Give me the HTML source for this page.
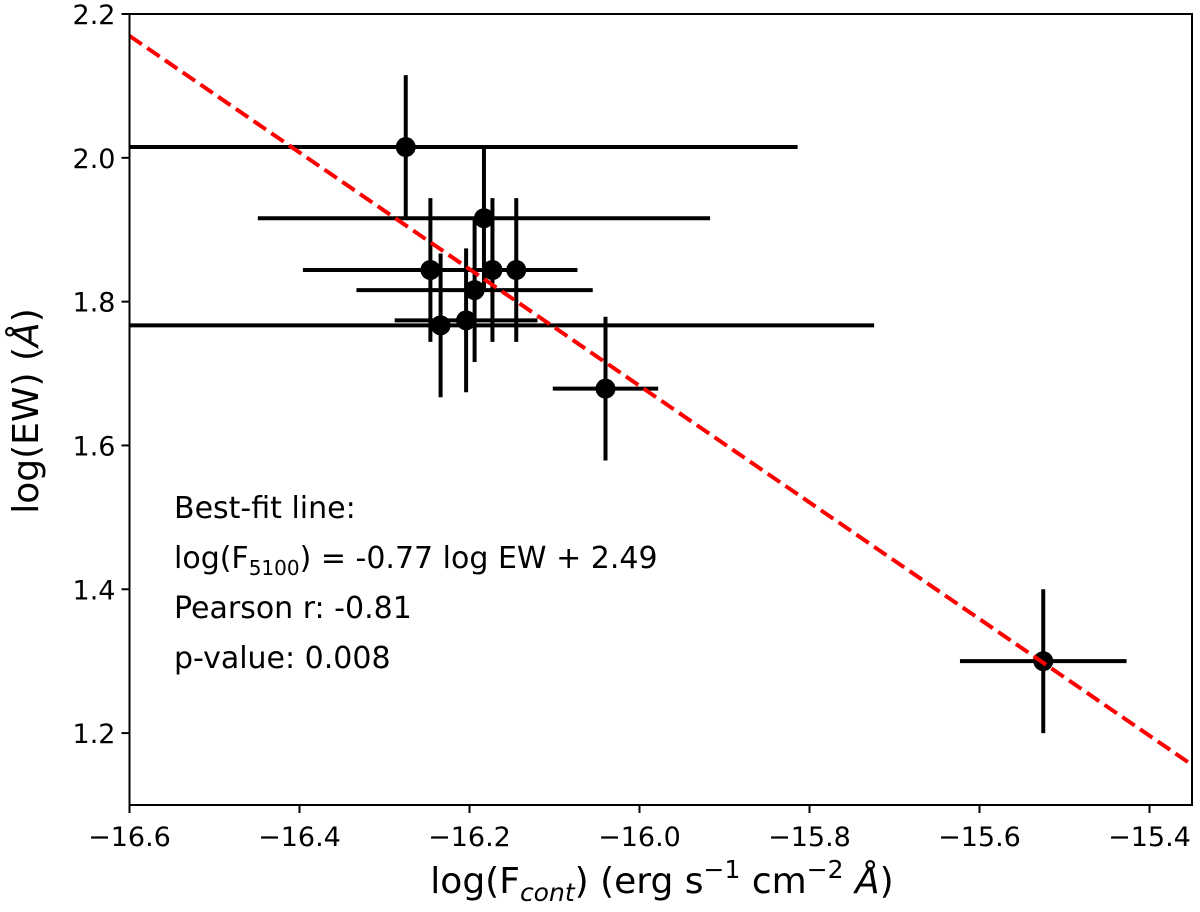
<!DOCTYPE html>
<html><head><meta charset="utf-8">
<style>
html,body{margin:0;padding:0;background:#fff;}
svg{display:block;font-family:"DejaVu Sans","Liberation Sans",sans-serif;}
</style></head>
<body>
<svg id="chart" width="1200" height="912" viewBox="0 0 1200 912" xmlns="http://www.w3.org/2000/svg">
<g id="marks"></g>
<g id="axes"></g>
<g font-size="30" fill="#000">
<text x="174" y="518">Best-fit line:</text>
<text x="174" y="568">log(F<tspan font-size="20" dy="7">5100</tspan><tspan dy="-7">) = -0.77 log EW + 2.49</tspan></text>
<text x="174" y="618">Pearson r: -0.81</text>
<text x="174" y="668">p-value: 0.008</text>
</g>
<text x="662" y="893" font-size="36" text-anchor="middle">log(F<tspan font-size="25" font-style="italic" dy="8">cont</tspan><tspan dy="-8">) (erg s</tspan><tspan font-size="25" dy="-15">−1</tspan><tspan dy="15"> cm</tspan><tspan font-size="25" dy="-15">−2</tspan><tspan dy="15"> </tspan><tspan font-style="italic">Å</tspan>)</text>
<text transform="translate(38,411) rotate(-90)" font-size="36" text-anchor="middle">log(EW) (<tspan font-style="italic">Å</tspan>)</text>
</svg>
<script>
const xVals = [-16.275, -16.183, -16.246, -16.173, -16.145, -16.194, -16.204, -16.234, -16.04, -15.525];
const yVals = [2.015, 1.916, 1.844, 1.844, 1.844, 1.816, 1.774, 1.767, 1.679, 1.30];
const xErr = [0.461, 0.266, 0.150, 0.100, 0.070, 0.139, 0.084, 0.51, 0.062, 0.098];
const yErr = [0.1, 0.1, 0.1, 0.1, 0.1, 0.1, 0.1, 0.1, 0.1, 0.1];
const xTicks = [-16.6, -16.4, -16.2, -16.0, -15.8, -15.6, -15.4];
const yTicks = [1.2, 1.4, 1.6, 1.8, 2.0, 2.2];
const fitSlope = -0.811;
const fitIntercept = -11.293;

const L=129.5,R=1192,T=14,B=805;
const X0=-16.6,X1=-15.35,Y0=1.1,Y1=2.2;
const sx=v=>L+(v-X0)/(X1-X0)*(R-L);
const sy=v=>B-(v-Y0)/(Y1-Y0)*(B-T);
const NS="http://www.w3.org/2000/svg";
const marks=document.getElementById('marks');
const axes=document.getElementById('axes');
function mk(tag,attrs,parent){const e=document.createElementNS(NS,tag);for(const k in attrs)e.setAttribute(k,attrs[k]);parent.appendChild(e);return e;}

const defs=mk('defs',{},marks);
const cp=mk('clipPath',{id:'plotclip'},defs);
mk('rect',{x:L,y:T,width:R-L,height:B-T},cp);
const plot=mk('g',{'clip-path':'url(#plotclip)'},marks);

for(let i=0;i<xVals.length;i++){
  const g=mk('g',{},plot);
  
  
  mk('line',{x1:sx(xVals[i]-xErr[i]),x2:sx(xVals[i]+xErr[i]),y1:sy(yVals[i]),y2:sy(yVals[i]),stroke:'#000','stroke-width':4},g);
  mk('line',{x1:sx(xVals[i]),x2:sx(xVals[i]),y1:sy(yVals[i]-yErr[i]),y2:sy(yVals[i]+yErr[i]),stroke:'#000','stroke-width':4},g);
  mk('circle',{cx:sx(xVals[i]),cy:sy(yVals[i]),r:10,fill:'#000'},g);
}
const fl=mk('line',{x1:sx(X0),y1:sy(fitSlope*X0+fitIntercept),x2:sx(X1),y2:sy(fitSlope*X1+fitIntercept),stroke:'#ff0000','stroke-width':4,'stroke-dasharray':'15,6.5'},plot);



const fr=mk('rect',{x:L,y:T,width:R-L,height:B-T,fill:'none',stroke:'#000','stroke-width':2},axes);


xTicks.forEach(t=>{
  const x=sx(t);
  mk('line',{x1:x,x2:x,y1:B,y2:B+8,stroke:'#000','stroke-width':2},axes);
  const tx=mk('text',{x:x,y:B+41,'font-size':27,'text-anchor':'middle'},axes);
  tx.textContent='−'+Math.abs(t).toFixed(1);
  
  
});
yTicks.forEach(t=>{
  const y=sy(t);
  mk('line',{x1:L-8,x2:L,y1:y,y2:y,stroke:'#000','stroke-width':2},axes);
  const tx=mk('text',{x:L-14,y:y+10,'font-size':27,'text-anchor':'end'},axes);
  tx.textContent=t.toFixed(1);
  
  
});
</script>
</body></html>
